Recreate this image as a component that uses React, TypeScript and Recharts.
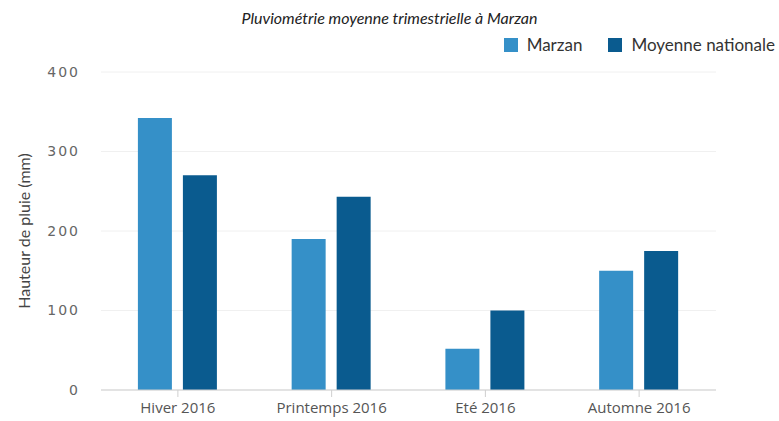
import { BarChart, Bar, XAxis, YAxis, CartesianGrid } from 'recharts';

const saisons = ['Hiver 2016', 'Printemps 2016', 'Eté 2016', 'Automne 2016'];
const marzan = [342, 190, 52, 150];
const moyenneNationale = [270, 243, 100, 175];
const yTicks = [0, 100, 200, 300, 400];

const COLORS = { marzan: '#3590c8', moyenne: '#0a5b8f' };

const data = saisons.map((saison, i) => ({
  saison,
  marzan: marzan[i],
  moyenne: moyenneNationale[i],
}));

const legendItems = [
  { label: 'Marzan', color: COLORS.marzan },
  { label: 'Moyenne nationale', color: COLORS.moyenne },
];

export default function App() {
  return (
    <div style={{ position: 'absolute', left: 0, top: 0, width: 779, height: 421, background: '#fff' }}>
      <div
        style={{
          position: 'absolute',
          top: 8,
          left: 0,
          width: 779,
          textAlign: 'center',
          fontFamily: 'Lato, sans-serif',
          fontStyle: 'italic',
          fontSize: 16,
          color: '#222',
        }}
      >
        Pluviométrie moyenne trimestrielle à Marzan
      </div>
      <div
        style={{
          position: 'absolute',
          top: 34,
          right: 4,
          display: 'flex',
          alignItems: 'center',
          fontFamily: 'Lato, sans-serif',
          fontSize: 17,
          color: '#333',
        }}
      >
        {legendItems.map((item) => (
          <div key={item.label} style={{ display: 'flex', alignItems: 'center', marginLeft: 26 }}>
            <span style={{ width: 14, height: 14, background: item.color, marginRight: 9, display: 'inline-block' }} />
            <span>{item.label}</span>
          </div>
        ))}
      </div>
      <BarChart
        width={779}
        height={421}
        data={data}
        margin={{ top: 72, right: 63, bottom: 0, left: 0 }}
        barCategoryGap="24%"
        barGap={11}
      >
        <CartesianGrid vertical={false} stroke="#f0f0f0" />
        <XAxis
          dataKey="saison"
          height={31}
          stroke="#cfcfcf"
          tickSize={7}
          tickMargin={5}
          tick={{ fill: '#555', fontSize: 15, fontFamily: '"Open Sans", sans-serif' }}
        />
        <YAxis
          width={101}
          domain={[0, 400]}
          ticks={yTicks}
          axisLine={false}
          tickLine={false}
          tickMargin={15}
          tick={{ fill: '#666', fontSize: 14, fontFamily: '"DejaVu Sans", sans-serif', letterSpacing: 2 }}
          label={{
            value: 'Hauteur de pluie (mm)',
            angle: -90,
            position: 'insideLeft',
            offset: 24,
            style: { textAnchor: 'middle', fill: '#444', fontSize: 16, fontFamily: 'Lato, sans-serif' },
          }}
        />
        <Bar dataKey="marzan" name="Marzan" fill={COLORS.marzan} isAnimationActive={false} />
        <Bar dataKey="moyenne" name="Moyenne nationale" fill={COLORS.moyenne} isAnimationActive={false} />
      </BarChart>
    </div>
  );
}
